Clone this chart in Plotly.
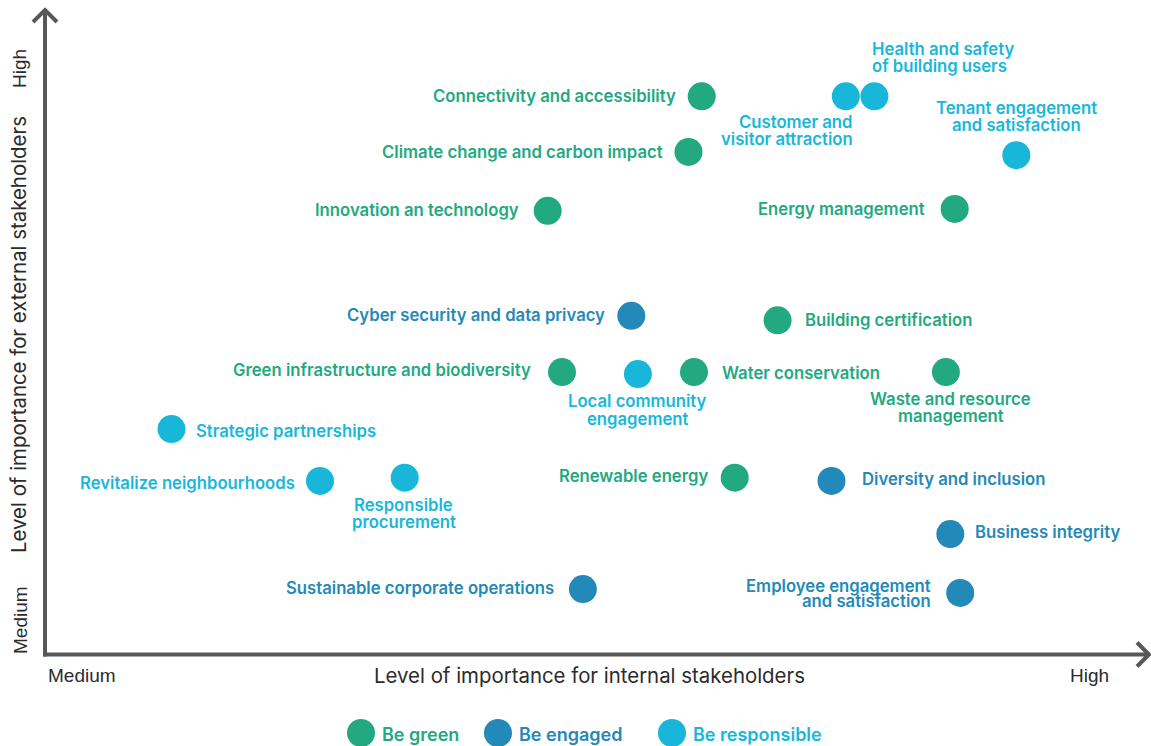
import plotly.graph_objects as go

# ---------------- data ----------------
categories = ["Be green", "Be engaged", "Be responsible"]

green_labels = ["Connectivity and accessibility", "Climate change and carbon impact",
                "Innovation an technology", "Energy management", "Building certification",
                "Green infrastructure and biodiversity", "Water conservation",
                "Waste and resource\nmanagement", "Renewable energy"]
green_x = [59.7, 58.5, 45.7, 82.7, 66.6, 47.0, 59.0, 81.9, 62.7]
green_y = [87.3, 78.6, 69.4, 69.7, 52.3, 44.2, 44.2, 44.2, 27.7]

engaged_labels = ["Cyber security and data privacy", "Diversity and inclusion",
                  "Business integrity", "Sustainable corporate operations",
                  "Employee engagement\nand satisfaction"]
engaged_x = [53.3, 71.5, 82.3, 48.9, 83.2]
engaged_y = [53.0, 27.2, 18.9, 10.3, 9.7]

responsible_labels = ["Customer and\nvisitor attraction", "Health and safety\nof building users",
                      "Tenant engagement\nand satisfaction", "Local community\nengagement",
                      "Strategic partnerships", "Revitalize neighbourhoods",
                      "Responsible\nprocurement"]
responsible_x = [72.8, 75.4, 88.3, 53.9, 11.5, 25.0, 32.7]
responsible_y = [87.3, 87.3, 78.1, 43.9, 35.3, 27.2, 27.7]

axis_x_title = "Level of importance for internal stakeholders"
axis_y_title = "Level of importance for external stakeholders"
axis_low, axis_high = "Medium", "High"

# ---------------- styles ----------------
W, H = 1151, 746
X0_PX, Y0_PX = 45, 655          # origin of the value scale in pixels
X_PX_PER_UNIT, Y_PX_PER_UNIT = 11.0, 6.4

colors = {"Be green": "#22a97f", "Be engaged": "#2389b8", "Be responsible": "#18b7da"}
AXIS_COLOR = "#58585a"
TEXT_DARK = "#2b2b2b"
LABEL_FONT = "Inter"
TITLE_FONT = "Inter"
END_FONT = "Liberation Sans, Arial, sans-serif"
LABEL_SIZE = 16.7
LABEL_WEIGHT = 600
MARKER_SIZE = 28

# label placement: (xanchor, dx_px, [dy_px per line]) ; dy positive = downward
placement = {
    "Connectivity and accessibility": ("right", -24, [0]),
    "Climate change and carbon impact": ("right", -24, [0]),
    "Innovation an technology": ("right", -27, [-1]),
    "Energy management": ("right", -28, [0]),
    "Building certification": ("left", 25, [0]),
    "Green infrastructure and biodiversity": ("right", -29, [-2]),
    "Water conservation": ("left", 26, [1]),
    "Waste and resource\nmanagement": ("center", 5, [27, 44]),
    "Renewable energy": ("right", -25, [-2]),
    "Cyber security and data privacy": ("right", -24, [-1]),
    "Diversity and inclusion": ("left", 28, [-2]),
    "Business integrity": ("left", 23, [-2]),
    "Sustainable corporate operations": ("right", -27, [-1]),
    "Employee engagement\nand satisfaction": ("right", -27, [-7, 8]),
    "Customer and\nvisitor attraction": ("right", 9, [26, 43]),
    "Health and safety\nof building users": ("left", -4, [-47, -30]),
    "Tenant engagement\nand satisfaction": ("center", 0, [-47, -30]),
    "Local community\nengagement": ("center", 0, [27, 45]),
    "Strategic partnerships": ("left", 22, [2]),
    "Revitalize neighbourhoods": ("right", -23, [2]),
    "Responsible\nprocurement": ("center", -1, [27, 44]),
}

series = [
    ("Be green", green_labels, green_x, green_y),
    ("Be engaged", engaged_labels, engaged_x, engaged_y),
    ("Be responsible", responsible_labels, responsible_x, responsible_y),
]


def px(x):
    return x / W


def py(y):
    return 1 - y / H


fig = go.Figure()
annotations = []

for name, labels, xs, ys in series:
    col = colors[name]
    fig.add_trace(go.Scatter(
        x=xs, y=ys, mode="markers", name=name,
        marker=dict(size=MARKER_SIZE, color=col, line=dict(width=0)),
        text=[l.replace("\n", " ") for l in labels],
        hovertemplate="%{text}<extra>" + name + "</extra>",
        showlegend=False,
    ))
    for lab, xv, yv in zip(labels, xs, ys):
        anchor, dx, dys = placement[lab]
        for line, dy in zip(lab.split("\n"), dys):
            annotations.append(dict(
                x=xv, y=yv, xref="x", yref="y", text=line, showarrow=False,
                xanchor=anchor, yanchor="middle", xshift=dx, yshift=-dy,
                font=dict(family=LABEL_FONT, size=LABEL_SIZE, color=col, weight=LABEL_WEIGHT),
            ))

# axis titles and end labels
title_font = dict(family=TITLE_FONT, size=20.4, color=TEXT_DARK, weight=400)
end_font = dict(family=END_FONT, size=19, color=TEXT_DARK)
annotations += [
    dict(x=px(589), y=py(675), xref="paper", yref="paper", text=axis_x_title,
         showarrow=False, xanchor="center", yanchor="middle", font=title_font),
    dict(x=px(18), y=py(335), xref="paper", yref="paper", text=axis_y_title,
         showarrow=False, xanchor="center", yanchor="middle", textangle=-90, font=title_font),
    dict(x=px(46), y=py(675), xref="paper", yref="paper", text=axis_low,
         showarrow=False, xanchor="left", yanchor="middle", font=end_font),
    dict(x=px(1111), y=py(675), xref="paper", yref="paper", text=axis_high,
         showarrow=False, xanchor="right", yanchor="middle", font=end_font),
    dict(x=px(20), y=py(620), xref="paper", yref="paper", text=axis_low,
         showarrow=False, xanchor="center", yanchor="middle", textangle=-90, font=end_font),
    dict(x=px(20), y=py(69), xref="paper", yref="paper", text=axis_high,
         showarrow=False, xanchor="center", yanchor="middle", textangle=-90, font=end_font),
]

# axes with arrows
line_style = dict(color=AXIS_COLOR, width=4)
shapes = [
    dict(type="line", xref="paper", yref="paper", x0=px(43), y0=py(654.5), x1=px(1149), y1=py(654.5), line=line_style),
    dict(type="line", xref="paper", yref="paper", x0=px(45), y0=py(656.5), x1=px(45), y1=py(10), line=line_style),
    dict(type="path", xref="paper", yref="paper",
         path=f"M {px(33)},{py(22)} L {px(45)},{py(10)} L {px(57)},{py(22)}", line=line_style),
    dict(type="path", xref="paper", yref="paper",
         path=f"M {px(1137)},{py(642.5)} L {px(1149)},{py(654.5)} L {px(1137)},{py(666.5)}", line=line_style),
]

# legend (drawn manually so swatches match the marker size)
legend_centers = [361, 498, 672]
for name, cx in zip(categories, legend_centers):
    shapes.append(dict(type="circle", xref="paper", yref="paper",
                       xsizemode="pixel", ysizemode="pixel",
                       xanchor=px(cx), yanchor=py(733),
                       x0=-MARKER_SIZE / 2, x1=MARKER_SIZE / 2,
                       y0=-MARKER_SIZE / 2, y1=MARKER_SIZE / 2,
                       fillcolor=colors[name], line=dict(width=0)))
    annotations.append(dict(x=px(cx + 19), y=py(734), xref="paper", yref="paper", text=name,
                            showarrow=False, xanchor="left", yanchor="middle",
                            font=dict(family=LABEL_FONT, size=18, color=colors[name], weight=LABEL_WEIGHT)))

fig.update_layout(
    width=W, height=H,
    margin=dict(l=0, r=0, t=0, b=0),
    paper_bgcolor="white", plot_bgcolor="white",
    xaxis=dict(range=[-X0_PX / X_PX_PER_UNIT, (W - X0_PX) / X_PX_PER_UNIT], visible=False, fixedrange=True),
    yaxis=dict(range=[(Y0_PX - H) / Y_PX_PER_UNIT, Y0_PX / Y_PX_PER_UNIT], visible=False, fixedrange=True),
    annotations=annotations,
    shapes=shapes,
    showlegend=False,
)

fig.write_html("out.html")
